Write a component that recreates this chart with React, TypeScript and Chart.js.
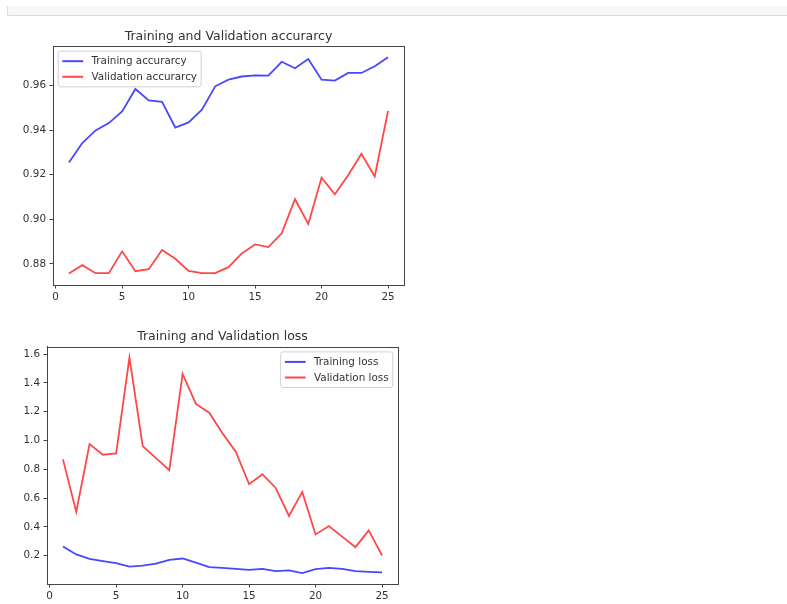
import React, { useEffect, useRef } from "react";
import { Chart, registerables } from "chart.js";

Chart.register(...registerables);

const epochs = [1, 2, 3, 4, 5, 6, 7, 8, 9, 10, 11, 12, 13, 14, 15, 16, 17, 18, 19, 20, 21, 22, 23, 24, 25];
const trainAcc = [0.9255, 0.9342, 0.9399, 0.9432, 0.9484, 0.9585, 0.9534, 0.9527, 0.9412, 0.9435, 0.9492, 0.9597, 0.9627, 0.9641, 0.9646, 0.9645, 0.9707, 0.9678, 0.972, 0.9627, 0.9623, 0.9657, 0.9657, 0.9687, 0.9727];
const valAcc = [0.8757, 0.8794, 0.8758, 0.8758, 0.8856, 0.8767, 0.8776, 0.8862, 0.8823, 0.8768, 0.8758, 0.8758, 0.8785, 0.8847, 0.8887, 0.8875, 0.8937, 0.909, 0.8979, 0.9187, 0.9112, 0.9198, 0.9294, 0.9192, 0.9487];
const trainLoss = [0.265, 0.209, 0.179, 0.163, 0.149, 0.125, 0.132, 0.146, 0.172, 0.181, 0.153, 0.121, 0.116, 0.109, 0.102, 0.109, 0.093, 0.098, 0.079, 0.107, 0.116, 0.109, 0.093, 0.088, 0.084];
const valLoss = [0.869, 0.504, 0.975, 0.901, 0.91, 1.576, 0.961, 0.878, 0.794, 1.462, 1.254, 1.193, 1.05, 0.922, 0.697, 0.766, 0.671, 0.476, 0.643, 0.348, 0.406, 0.333, 0.26, 0.376, 0.202];

const xTickValues = [0, 5, 10, 15, 20, 25];
const accTickValues = [0.88, 0.9, 0.92, 0.94, 0.96];
const lossTickValues = [0.2, 0.4, 0.6, 0.8, 1.0, 1.2, 1.4, 1.6];

const accTitle = "Training and Validation accurarcy";
const lossTitle = "Training and Validation loss";
const accLabels = ["Training accurarcy", "Validation accurarcy"];
const lossLabels = ["Training loss", "Validation loss"];

const BLUE = "rgba(0,0,255,0.72)";
const RED = "rgba(255,0,0,0.72)";
const FONT = '"DejaVu Sans", sans-serif';
const TEXT = "#333333";
const SPINE = "#444444";

const decorPlugin = {
  id: "decor",
  afterDatasetsDraw(chart: any, _args: any, opts: any) {
    const { ctx, chartArea: a } = chart;
    ctx.save();
    // frame
    ctx.strokeStyle = SPINE;
    ctx.lineWidth = 1;
    ctx.strokeRect(Math.round(a.left) + 0.5, Math.round(a.top) + 0.5, Math.round(a.right - a.left), Math.round(a.bottom - a.top));
    // title
    ctx.fillStyle = TEXT;
    ctx.font = `12.5px ${FONT}`;
    ctx.textAlign = "center";
    ctx.textBaseline = "alphabetic";
    ctx.fillText(opts.title, (a.left + a.right) / 2, a.top - 6.5);
    // legend
    const fs = 10.4;
    ctx.font = `${fs}px ${FONT}`;
    const ds = chart.data.datasets;
    const tw = Math.max(...ds.map((d: any) => ctx.measureText(d.label).width));
    const bp = 0.4 * fs, hl = 2 * fs, htp = 0.8 * fs;
    const w = bp + hl + htp + tw + bp;
    const edge = 10, gap = 15.6;
    const h = edge * 2 + gap * (ds.length - 1);
    const x = opts.loc === "right" ? a.right - 5.2 - w : a.left + 5.2;
    const y = a.top + 5.2;
    const r = 2.5;
    ctx.beginPath();
    ctx.moveTo(x + r, y);
    ctx.lineTo(x + w - r, y);
    ctx.arcTo(x + w, y, x + w, y + r, r);
    ctx.lineTo(x + w, y + h - r);
    ctx.arcTo(x + w, y + h, x + w - r, y + h, r);
    ctx.lineTo(x + r, y + h);
    ctx.arcTo(x, y + h, x, y + h - r, r);
    ctx.lineTo(x, y + r);
    ctx.arcTo(x, y, x + r, y, r);
    ctx.closePath();
    ctx.fillStyle = "rgba(255,255,255,0.85)";
    ctx.fill();
    ctx.strokeStyle = "#d0d0d0";
    ctx.lineWidth = 1;
    ctx.stroke();
    ds.forEach((d: any, i: number) => {
      const ry = y + edge + gap * i;
      ctx.beginPath();
      ctx.strokeStyle = d.borderColor;
      ctx.lineWidth = 2;
      ctx.moveTo(x + bp, ry);
      ctx.lineTo(x + bp + hl, ry);
      ctx.stroke();
      ctx.fillStyle = TEXT;
      ctx.textAlign = "left";
      ctx.textBaseline = "middle";
      ctx.fillText(d.label, x + bp + hl + htp, ry + 0.5);
    });
    ctx.restore();
  },
};

function makeConfig(p: {
  labels: string[];
  series: number[][];
  yTicks: number[];
  yMin: number;
  yMax: number;
  digits: number;
  yWidth: number;
  xHeight: number;
  padTop: number;
  padRight: number;
  title: string;
  loc: string;
}): any {
  const colors = [BLUE, RED];
  return {
    type: "line",
    data: {
      datasets: p.series.map((s, k) => ({
        label: p.labels[k],
        data: epochs.map((e, i) => ({ x: e, y: s[i] })),
        borderColor: colors[k],
        backgroundColor: colors[k],
        borderWidth: 1.8,
        pointRadius: 0,
        tension: 0,
        fill: false,
      })),
    },
    options: {
      animation: false,
      responsive: false,
      maintainAspectRatio: false,
      devicePixelRatio: 1,
      layout: { padding: { top: p.padTop, right: p.padRight, left: 0, bottom: 0 } },
      plugins: {
        legend: { display: false },
        title: { display: false },
        tooltip: { enabled: false },
        decor: { title: p.title, loc: p.loc },
      },
      scales: {
        x: {
          type: "linear",
          min: -0.2,
          max: 26.2,
          afterBuildTicks: (scale: any) => {
            scale.ticks = xTickValues.map((value) => ({ value }));
          },
          afterFit: (scale: any) => {
            scale.height = p.xHeight;
          },
          ticks: {
            autoSkip: false,
            maxRotation: 0,
            padding: 3,
            color: TEXT,
            font: { family: FONT, size: 10.4 },
            callback: (v: number) => String(v),
          },
          grid: { drawOnChartArea: false, drawTicks: true, tickLength: 3.5, color: SPINE, tickColor: SPINE },
          border: { display: true, color: SPINE },
        },
        y: {
          type: "linear",
          min: p.yMin,
          max: p.yMax,
          afterBuildTicks: (scale: any) => {
            scale.ticks = p.yTicks.map((value) => ({ value }));
          },
          afterFit: (scale: any) => {
            scale.width = p.yWidth;
          },
          ticks: {
            autoSkip: false,
            padding: 3.5,
            color: TEXT,
            font: { family: FONT, size: 10.4 },
            callback: (v: number) => Number(v).toFixed(p.digits),
          },
          grid: { drawOnChartArea: false, drawTicks: true, tickLength: 3.5, color: SPINE, tickColor: SPINE },
          border: { display: true, color: SPINE },
        },
      },
    },
    plugins: [decorPlugin],
  };
}

function ChartBox({ config, left, top, width, height }: any) {
  const ref = useRef<HTMLCanvasElement | null>(null);
  useEffect(() => {
    if (!ref.current) return;
    const chart = new Chart(ref.current, config);
    return () => chart.destroy();
  }, [config]);
  return (
    <canvas
      ref={ref}
      width={width}
      height={height}
      style={{ position: "absolute", left, top, width, height, display: "block" }}
    />
  );
}

const accConfig = makeConfig({
  labels: accLabels,
  series: [trainAcc, valAcc],
  yTicks: accTickValues,
  yMin: 0.8705,
  yMax: 0.9778,
  digits: 2,
  yWidth: 53,
  xHeight: 25,
  padTop: 26,
  padRight: 16,
  title: accTitle,
  loc: "left",
});

const lossConfig = makeConfig({
  labels: lossLabels,
  series: [trainLoss, valLoss],
  yTicks: lossTickValues,
  yMin: 0.004,
  yMax: 1.651,
  digits: 1,
  yWidth: 47,
  xHeight: 20,
  padTop: 26.7,
  padRight: 22,
  title: lossTitle,
  loc: "right",
});

export default function App() {
  return (
    <div
      style={{
        position: "fixed",
        left: 0,
        top: 0,
        width: 787,
        height: 604,
        background: "#ffffff",
        overflow: "hidden",
      }}
    >
      <div
        style={{
          position: "absolute",
          left: 7,
          top: 6,
          right: 0,
          height: 9,
          background: "#f7f7f7",
          borderLeft: "1px solid #dddddd",
          borderBottom: "1px solid #dddddd",
          borderBottomLeftRadius: 2,
        }}
      />
      <ChartBox config={accConfig} left={0} top={20} width={420} height={290} />
      <ChartBox config={lossConfig} left={0} top={320} width={420} height={284} />
    </div>
  );
}
